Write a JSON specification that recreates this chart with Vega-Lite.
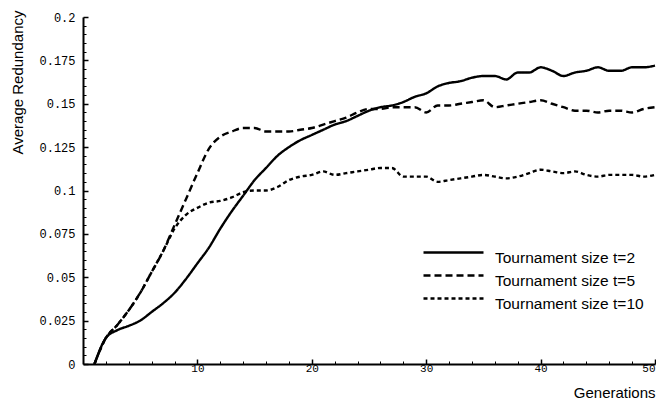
{
  "$schema": "https://vega.github.io/schema/vega-lite/v6.json",
  "width": 572,
  "height": 347,
  "autosize": {"type": "none"},
  "padding": {"left": 83, "top": 17, "right": 1, "bottom": 38},
  "background": "white",
  "config": {
    "view": {"stroke": null},
    "axis": {"grid": false, "domainColor": "black", "tickColor": "black", "labelColor": "black", "titleColor": "black"}
  },
  "datasets": {
    "runs": [
      {"gen": 1, "t2": 0, "t5": 0, "t10": 0},
      {"gen": 2, "t2": 0.015, "t5": 0.015, "t10": 0.015},
      {"gen": 3, "t2": 0.0195, "t5": 0.0225, "t10": 0.0225},
      {"gen": 4, "t2": 0.022, "t5": 0.031, "t10": 0.031},
      {"gen": 5, "t2": 0.025, "t5": 0.041, "t10": 0.041},
      {"gen": 6, "t2": 0.030, "t5": 0.053, "t10": 0.053},
      {"gen": 7, "t2": 0.035, "t5": 0.065, "t10": 0.065},
      {"gen": 8, "t2": 0.041, "t5": 0.080, "t10": 0.078},
      {"gen": 9, "t2": 0.049, "t5": 0.095, "t10": 0.086},
      {"gen": 10, "t2": 0.058, "t5": 0.110, "t10": 0.090},
      {"gen": 11, "t2": 0.067, "t5": 0.124, "t10": 0.093},
      {"gen": 12, "t2": 0.078, "t5": 0.131, "t10": 0.094},
      {"gen": 13, "t2": 0.088, "t5": 0.134, "t10": 0.096},
      {"gen": 14, "t2": 0.097, "t5": 0.136, "t10": 0.099},
      {"gen": 15, "t2": 0.106, "t5": 0.136, "t10": 0.100},
      {"gen": 16, "t2": 0.113, "t5": 0.134, "t10": 0.100},
      {"gen": 17, "t2": 0.120, "t5": 0.134, "t10": 0.102},
      {"gen": 18, "t2": 0.125, "t5": 0.134, "t10": 0.106},
      {"gen": 19, "t2": 0.129, "t5": 0.135, "t10": 0.108},
      {"gen": 20, "t2": 0.132, "t5": 0.136, "t10": 0.109},
      {"gen": 21, "t2": 0.135, "t5": 0.138, "t10": 0.111},
      {"gen": 22, "t2": 0.138, "t5": 0.140, "t10": 0.109},
      {"gen": 23, "t2": 0.140, "t5": 0.142, "t10": 0.110},
      {"gen": 24, "t2": 0.143, "t5": 0.145, "t10": 0.111},
      {"gen": 25, "t2": 0.146, "t5": 0.147, "t10": 0.112},
      {"gen": 26, "t2": 0.148, "t5": 0.147, "t10": 0.113},
      {"gen": 27, "t2": 0.149, "t5": 0.148, "t10": 0.113},
      {"gen": 28, "t2": 0.151, "t5": 0.148, "t10": 0.108},
      {"gen": 29, "t2": 0.154, "t5": 0.148, "t10": 0.108},
      {"gen": 30, "t2": 0.156, "t5": 0.145, "t10": 0.108},
      {"gen": 31, "t2": 0.160, "t5": 0.149, "t10": 0.105},
      {"gen": 32, "t2": 0.162, "t5": 0.149, "t10": 0.106},
      {"gen": 33, "t2": 0.163, "t5": 0.150, "t10": 0.107},
      {"gen": 34, "t2": 0.165, "t5": 0.151, "t10": 0.108},
      {"gen": 35, "t2": 0.166, "t5": 0.152, "t10": 0.109},
      {"gen": 36, "t2": 0.166, "t5": 0.148, "t10": 0.108},
      {"gen": 37, "t2": 0.164, "t5": 0.149, "t10": 0.107},
      {"gen": 38, "t2": 0.168, "t5": 0.150, "t10": 0.108},
      {"gen": 39, "t2": 0.168, "t5": 0.151, "t10": 0.110},
      {"gen": 40, "t2": 0.171, "t5": 0.152, "t10": 0.112},
      {"gen": 41, "t2": 0.169, "t5": 0.150, "t10": 0.111},
      {"gen": 42, "t2": 0.166, "t5": 0.148, "t10": 0.110},
      {"gen": 43, "t2": 0.168, "t5": 0.146, "t10": 0.111},
      {"gen": 44, "t2": 0.169, "t5": 0.146, "t10": 0.109},
      {"gen": 45, "t2": 0.171, "t5": 0.145, "t10": 0.108},
      {"gen": 46, "t2": 0.169, "t5": 0.146, "t10": 0.109},
      {"gen": 47, "t2": 0.169, "t5": 0.146, "t10": 0.109},
      {"gen": 48, "t2": 0.171, "t5": 0.145, "t10": 0.109},
      {"gen": 49, "t2": 0.171, "t5": 0.147, "t10": 0.108},
      {"gen": 50, "t2": 0.172, "t5": 0.148, "t10": 0.109}
    ]
  },
  "data": {"name": "runs"},
  "transform": [
    {"fold": ["t2", "t5", "t10"], "as": ["series", "redundancy"]},
    {"calculate": "datum.series == 't2' ? 'Tournament size t=2' : datum.series == 't5' ? 'Tournament size t=5' : 'Tournament size t=10'", "as": "size"}
  ],
  "resolve": {"axis": {"x": "independent", "y": "independent"}},
  "layer": [
    {
      "mark": {"type": "line", "color": "black", "strokeWidth": 2.4, "strokeCap": "butt", "strokeJoin": "round", "interpolate": "monotone"},
      "encoding": {
        "x": {
          "field": "gen", "type": "quantitative",
          "scale": {"domain": [0, 50], "nice": false, "zero": false},
          "axis": {
            "orient": "bottom", "values": [10, 20, 30, 40, 50], "format": "d",
            "domainWidth": 2, "tickSize": -5, "tickWidth": 1.5, "labelPadding": 3,
            "labelFont": "Liberation Mono", "labelFontSize": 11, "labelFlush": true,
            "title": "Generations", "titleFont": "Liberation Sans", "titleFontSize": 15, "titleFontWeight": "normal",
            "titleAnchor": "end", "titleAlign": "right", "titleX": 572, "titleY": 33, "titleBaseline": "alphabetic"
          }
        },
        "y": {
          "field": "redundancy", "type": "quantitative",
          "scale": {"domain": [0, 0.2], "nice": false},
          "axis": {
            "orient": "left", "values": [0, 0.025, 0.05, 0.075, 0.1, 0.125, 0.15, 0.175, 0.2],
            "labelExpr": "format(datum.value, '.3~r')",
            "domainWidth": 2, "tickSize": -5, "tickWidth": 1.5, "labelPadding": 13,
            "labelFont": "Liberation Mono", "labelFontSize": 12,
            "title": "Average Redundancy", "titleFont": "Liberation Sans", "titleFontSize": 15, "titleFontWeight": "normal",
            "titleAngle": -90, "titleAnchor": "end", "titleAlign": "right", "titleBaseline": "alphabetic",
            "titleX": -61, "titleY": -7
          }
        },
        "strokeDash": {
          "field": "size", "type": "nominal",
          "sort": ["Tournament size t=2", "Tournament size t=5", "Tournament size t=10"],
          "scale": {"domain": ["Tournament size t=2", "Tournament size t=5", "Tournament size t=10"], "range": [[1, 0], [7, 4], [4, 3]]},
          "legend": {
            "title": null, "orient": "none", "legendX": 359, "legendY": 229,
            "symbolType": "M-3,-0.5H3", "symbolSize": 400, "symbolStrokeWidth": 2.4, "symbolStrokeColor": "black",
            "symbolFillColor": "transparent",
            "labelFont": "Liberation Sans", "labelFontSize": 15.5, "labelColor": "black", "labelOffset": 30,
            "labelBaseline": "middle", "rowPadding": 3, "labelLimit": 300
          }
        },
        "detail": {"field": "series"}
      }
    },
    {
      "mark": {"type": "point", "opacity": 0},
      "encoding": {
        "x": {
          "field": "gen", "type": "quantitative",
          "axis": {
            "orient": "bottom", "values": [2, 4, 6, 8, 12, 14, 16, 18, 22, 24, 26, 28, 32, 34, 36, 38, 42, 44, 46, 48],
            "labels": false, "domain": false, "tickSize": -3, "tickWidth": 1, "title": null
          }
        },
        "y": {
          "field": "redundancy", "type": "quantitative",
          "axis": {
            "orient": "left",
            "values": [0.005, 0.01, 0.015, 0.02, 0.03, 0.035, 0.04, 0.045, 0.055, 0.06, 0.065, 0.07, 0.08, 0.085, 0.09, 0.095, 0.105, 0.11, 0.115, 0.12, 0.13, 0.135, 0.14, 0.145, 0.155, 0.16, 0.165, 0.17, 0.18, 0.185, 0.19, 0.195],
            "labels": false, "domain": false, "tickSize": -3, "tickWidth": 1, "title": null
          }
        }
      }
    }
  ]
}
